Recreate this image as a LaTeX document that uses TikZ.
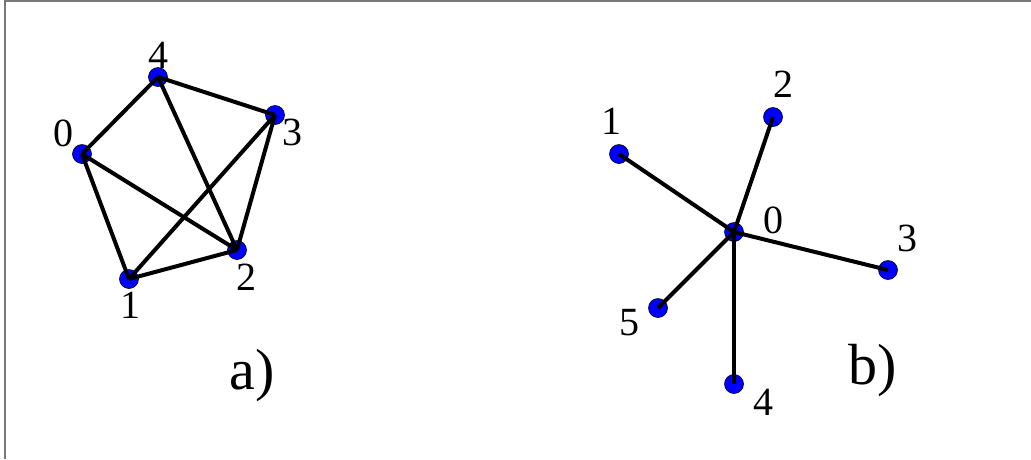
\documentclass[tikz,border=0pt]{standalone}
\usepackage{fontspec}
\setmainfont{Liberation Serif}
\usetikzlibrary{positioning}
\definecolor{vblue}{RGB}{0,0,255}
\definecolor{framegray}{RGB}{120,120,120}
\tikzset{
  vtx/.style={circle, fill=vblue, draw=black, line width=0.6pt, inner sep=0pt, minimum size=19pt},
  edg/.style={black, line width=4pt},
  num/.style={font=\fontsize{40}{44}\selectfont, inner sep=0pt},
  pcap/.style={font=\fontsize{58}{64}\selectfont, inner sep=0pt},
  frm/.style={framegray, line width=2pt},
}

\begin{document}
\begin{tikzpicture}[x=1pt, y=-1pt]
    \useasboundingbox (0,0) rectangle (1031,459);
    \draw[frm] (5,459) -- (5,1) -- (1031,1);
    % a) complete graph on five vertices
    \node[vtx] (a0) at (82,154) {};
    \node[vtx] (a1) at (129,279) {};
    \node[vtx] (a2) at (237,250) {};
    \node[vtx] (a3) at (275,115) {};
    \node[vtx] (a4) at (158,77) {};
    \foreach \u/\v in {a0/a4, a0/a1, a0/a2, a1/a2, a1/a3, a2/a3, a2/a4, a3/a4}
      \draw[edg] (\u.center) -- (\v.center);
    \node[num] (la0) at (63,133) {0};
    \node[num] (la1) at (130,305) {1};
    \node[num] (la2) at (246,277) {2};
    \node[num] (la3) at (292,132) {3};
    \node[num] (la4) at (158,55) {4};
    \node[pcap] (capa) at (252,376) {a)};
    % b) star around vertex 0
    \node[vtx] (b0) at (734,232) {};
    \node[vtx] (b1) at (619,154) {};
    \node[vtx] (b2) at (773,117) {};
    \node[vtx] (b3) at (888,270) {};
    \node[vtx] (b4) at (734,384) {};
    \node[vtx] (b5) at (658,308) {};
    \foreach \v in {b1,b2,b3,b4,b5}
      \draw[edg] (b0.center) -- (\v.center);
    \node[num] (lb0) at (773,220) {0};
    \node[num] (lb1) at (611,121) {1};
    \node[num] (lb2) at (783,84) {2};
    \node[num] (lb3) at (907,238) {3};
    \node[num] (lb4) at (763,402) {4};
    \node[num] (lb5) at (629,323) {5};
    \node[pcap] (capb) at (873,371) {b)};
\end{tikzpicture}
\end{document}
